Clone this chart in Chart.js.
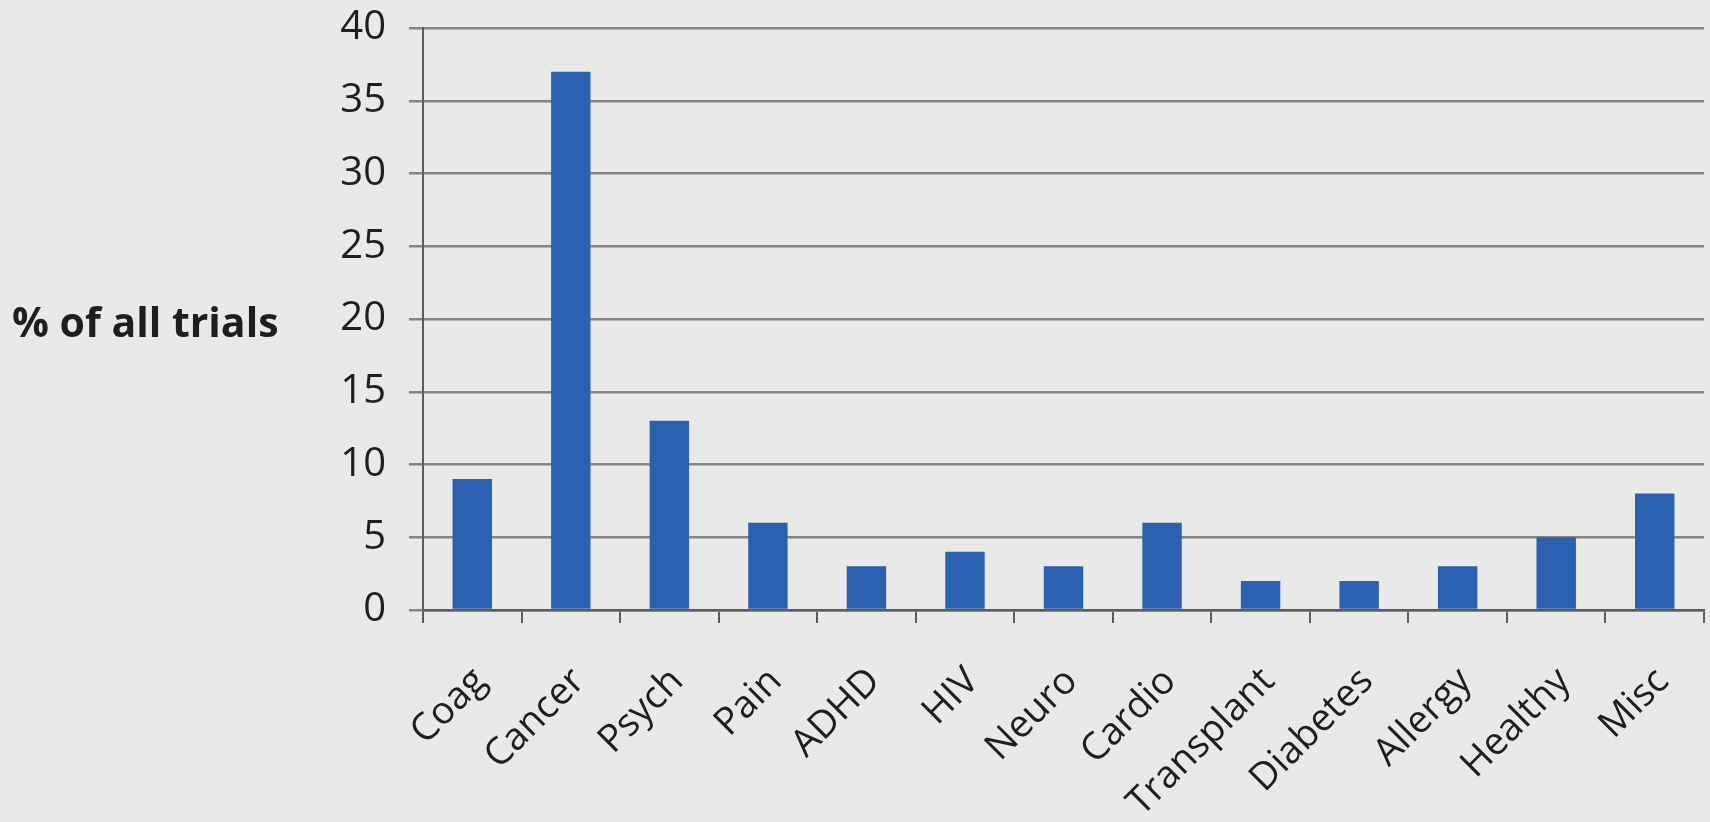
<!DOCTYPE html>
<html>
<head>
<meta charset="utf-8">
<title>Trials by area</title>
<script src="https://cdn.jsdelivr.net/npm/chart.js@4"></script>
<style>
    html, body { margin: 0; padding: 0; background: #e9e9e9; overflow: hidden; }
    #wrap { width: 1710px; height: 822px; position: relative; }
</style>
</head>
<body>
<div id="wrap"><canvas id="trialChart"></canvas></div>
<script>
// Share of trials per therapeutic area
const categories = ['Coag', 'Cancer', 'Psych', 'Pain', 'ADHD', 'HIV', 'Neuro', 'Cardio', 'Transplant', 'Diabetes', 'Allergy', 'Healthy', 'Misc'];
const trialShare = [9, 37, 13, 6, 3, 4, 3, 6, 2, 2, 3, 5, 8];
const yTicks = [0, 5, 10, 15, 20, 25, 30, 35, 40];
const yAxisLabel = '% of all trials';

const FONT = "'Open Sans', 'Liberation Sans', sans-serif";
const TEXT = '#1e1e1e';
const GRID = '#858585';
const AXIS = '#5c5c5c';

// Horizontal axis caption drawn to the left of the tick labels
const sideTitle = {
    id: 'sideTitle',
    afterDraw(chart) {
        const ctx = chart.ctx;
        const y = chart.scales.y;
        ctx.save();
        ctx.font = `bold 41px ${FONT}`;
        ctx.fillStyle = TEXT;
        ctx.textAlign = 'left';
        ctx.textBaseline = 'middle';
        ctx.fillText(yAxisLabel, 12, y.getPixelForValue(20) + 6);
        ctx.restore();
    }
};

document.addEventListener('DOMContentLoaded', () => {
    const ctx = document.getElementById('trialChart').getContext('2d');
    new Chart(ctx, {
        type: 'bar',
        data: {
            labels: categories,
            datasets: [{
                data: trialShare,
                backgroundColor: '#2c60b0',
                borderWidth: 0,
                barPercentage: 0.4,
                categoryPercentage: 1.0
            }]
        },
        options: {
            responsive: true,
            maintainAspectRatio: false,
            animation: false,
            layout: { padding: { top: 28, right: 6, left: 0, bottom: 0 } },
            plugins: {
                legend: { display: false },
                tooltip: { enabled: false }
            },
            scales: {
                x: {
                    grid: {
                        display: true,
                        offset: true,
                        drawOnChartArea: false,
                        drawTicks: true,
                        tickLength: 13,
                        color: AXIS,
                        lineWidth: 2
                    },
                    border: { display: true, color: AXIS, width: 2.5 },
                    ticks: {
                        color: TEXT,
                        font: { family: FONT, size: 38 },
                        minRotation: 45,
                        maxRotation: 45,
                        padding: 36,
                        labelOffset: 8
                    },
                    afterFit(scale) {
                        scale.height = 212;
                        scale.paddingLeft = 0;
                        scale.paddingRight = 0;
                    }
                },
                y: {
                    min: 0,
                    max: 40,
                    afterBuildTicks(scale) {
                        scale.ticks = yTicks.map(v => ({ value: v }));
                    },
                    grid: {
                        color: GRID,
                        lineWidth: 2.5,
                        drawTicks: true,
                        tickLength: 14
                    },
                    border: { display: true, color: AXIS, width: 2 },
                    ticks: {
                        color: TEXT,
                        font: { family: FONT, size: 40 },
                        padding: 23
                    },
                    afterFit(scale) {
                        scale.width = 423;
                        scale.paddingTop = 0;
                        scale.paddingBottom = 0;
                    }
                }
            }
        },
        plugins: [sideTitle]
    });
});
</script>
</body>
</html>
